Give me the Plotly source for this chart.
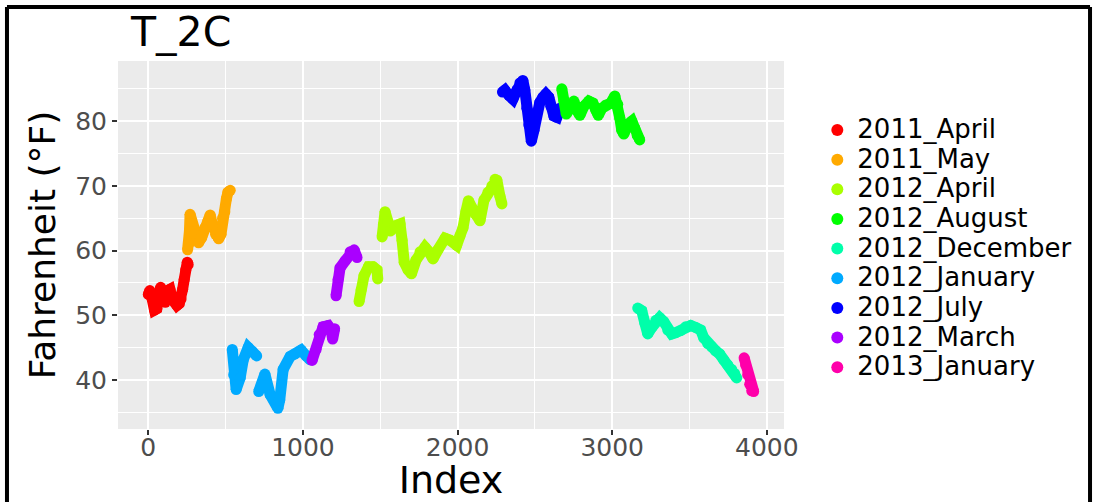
import plotly.graph_objects as go

# ---- data (index, Fahrenheit) ----
apr11_idx = [0, 10, 25, 40, 55, 70, 80, 95, 110, 125, 140, 155, 170, 185, 200, 212, 222, 232, 242, 252, 258]
apr11_f = [53.2, 53.8, 52.5, 50.8, 51.0, 53.5, 54.3, 52.5, 52.0, 53.8, 54.0, 52.5, 52.0, 51.5, 51.8, 52.5, 54.0, 55.5, 57.0, 58.2, 57.8]

may11_idx = [254, 262, 266, 270, 280, 300, 325, 345, 365, 385, 400, 415, 435, 455, 470, 480, 495, 505, 515, 530]
may11_f = [60.1, 61.0, 63.0, 65.6, 64.5, 62.5, 61.2, 62.0, 63.5, 64.5, 65.5, 64.0, 62.5, 61.8, 62.5, 65.0, 66.0, 68.0, 69.0, 69.3]

jan12_idx = [543, 552, 568, 594, 614, 646, 672, 701, None, 714, 754, 788, 838, 850, 872, 917, 950, 988, 1021, 1047]
jan12_f = [44.7, 40.8, 38.5, 40.3, 43.1, 45.0, 44.4, 43.7, None, 38.2, 40.9, 37.7, 35.6, 36.9, 41.6, 43.6, 44.0, 44.6, 43.7, 43.1]

mar12_idx = [1059, 1085, 1105, 1130, 1163, 1182, 1192, 1205, None, 1214, 1227, 1240, 1273, 1305, 1331, 1350]
mar12_f = [43.0, 44.7, 47.0, 48.2, 48.4, 47.7, 46.3, 47.9, None, 53.0, 55.5, 57.3, 58.4, 59.8, 60.1, 58.9]

apr12_idx = [1363, 1376, 1395, 1424, 1453, 1479, 1484, None, 1512, 1520, 1531, 1550, 1565, 1596, 1628, 1641, 1655, 1680, 1702, 1731, 1757, 1789, 1815, 1841, 1873, 1919, 1951, 1994, 2016, 2035, 2054, 2070, 2093, 2119, 2145, 2171, 2196, 2222, 2242, 2254, 2274, 2287]
apr12_f = [52.1, 53.9, 56.1, 57.5, 57.5, 57.0, 55.6, None, 62.1, 64.0, 66.0, 64.4, 63.0, 63.8, 64.1, 61.6, 58.2, 57.0, 56.4, 58.5, 59.8, 60.5, 59.8, 58.7, 60.1, 61.9, 61.6, 60.8, 62.3, 63.5, 66.0, 67.7, 66.6, 65.5, 64.6, 67.8, 69.0, 70.0, 71.0, 70.9, 68.4, 67.2]

jul12_idx = [2290, 2306, 2332, 2358, 2384, 2403, 2422, 2435, 2448, 2461, 2477, 2494, 2513, 2532, 2552, 2571, 2590, 2603, 2623, 2642, 2661]
jul12_f = [84.5, 84.8, 84.0, 83.4, 84.8, 85.9, 86.3, 84.8, 82.0, 79.4, 76.9, 78.6, 81.4, 82.9, 83.7, 84.2, 83.7, 82.3, 80.8, 80.6, 82.0]

aug12_idx = [2674, 2687, 2703, 2726, 2752, 2771, 2791, 2817, 2849, 2875, 2894, 2910, 2933, 2959, 2991, 3017, 3036, 3049, 3062, 3075, 3101, 3127, 3146, 3162, 3178]
aug12_f = [85.0, 83.2, 81.1, 82.0, 83.1, 81.7, 80.9, 82.3, 83.1, 82.8, 81.7, 80.9, 82.0, 82.5, 82.8, 83.9, 82.6, 80.5, 78.6, 78.0, 79.5, 80.0, 78.9, 77.8, 77.1]

dec12_idx = [3165, 3191, 3211, 3230, 3256, 3282, 3307, 3333, 3359, 3385, 3411, 3443, 3475, 3508, 3540, 3572, 3592, 3618, 3643, 3669, 3695, 3721, 3747, 3773, 3792, 3805]
dec12_f = [51.1, 50.7, 48.8, 47.1, 48.1, 49.2, 49.6, 49.0, 47.7, 47.1, 47.3, 47.6, 48.2, 48.4, 48.1, 47.7, 46.5, 45.6, 45.1, 44.5, 44.0, 43.1, 42.3, 41.6, 41.0, 40.3]

jan13_idx = [3853, 3863, 3876, 3889, 3902, 3915]
jan13_f = [43.4, 42.3, 40.8, 39.3, 38.3, 38.2]

# chronological drawing order (later data drawn on top)
series = [
    ("2011_April", apr11_idx, apr11_f, "#FF0000"),
    ("2011_May", may11_idx, may11_f, "#FFAA00"),
    ("2012_January", jan12_idx, jan12_f, "#00AAFF"),
    ("2012_March", mar12_idx, mar12_f, "#AA00FF"),
    ("2012_April", apr12_idx, apr12_f, "#AAFF00"),
    ("2012_July", jul12_idx, jul12_f, "#0000FF"),
    ("2012_August", aug12_idx, aug12_f, "#00FF00"),
    ("2012_December", dec12_idx, dec12_f, "#00FFAA"),
    ("2013_January", jan13_idx, jan13_f, "#FF00AA"),
]
legend_order = ["2011_April", "2011_May", "2012_April", "2012_August", "2012_December",
                "2012_January", "2012_July", "2012_March", "2013_January"]

FONT = "DejaVu Sans"
fig = go.Figure()
for name, xs, ys, col in series:
    fig.add_trace(go.Scatter(
        x=xs, y=ys, mode="lines+markers", name=name,
        showlegend=False, connectgaps=False,
        line=dict(color=col, width=11),
        marker=dict(color=col, size=11, line=dict(width=0)),
        hoverinfo="x+y+name"))
colors = {s[0]: s[3] for s in series}
for rank, name in enumerate(legend_order):
    fig.add_trace(go.Scatter(
        x=[None], y=[None], mode="markers",
        name='<span style="font-size:26px">' + name + '</span>',
        legendrank=rank + 1, showlegend=True,
        marker=dict(color=colors[name], size=11)))

# outer black frame (paper coords relative to plot area)
frame = dict(type="line", xref="paper", yref="paper", line=dict(color="black", width=4))
fig.add_shape(x0=-0.1667, x1=-0.1667, y0=1.147, y1=-0.25, **frame)
fig.add_shape(x0=-0.1667, x1=1.4595, y0=1.147, y1=1.147, **frame)
fig.add_shape(x0=1.4595, x1=1.4595, y0=1.147, y1=-0.25, **frame)

fig.update_layout(
    width=1097, height=502,
    margin=dict(l=118, r=313, t=61, b=73),
    paper_bgcolor="white", plot_bgcolor="#EBEBEB",
    font=dict(family=FONT, color="black"),
    title=dict(text="T_2C", x=131 / 1097, xanchor="left", xref="container",
               y=1 - 32 / 502, yanchor="middle", yref="container",
               font=dict(size=41, family=FONT, color="black")),
    legend=dict(x=1.05, xanchor="left", y=0.49, yanchor="middle",
                font=dict(size=20.5, family=FONT, color="black"),
                tracegroupgap=0,
                bgcolor="rgba(0,0,0,0)", itemsizing="constant"),
    showlegend=True,
)
fig.update_xaxes(
    range=[-196, 4111], tickvals=[0, 1000, 2000, 3000, 4000], automargin=False,
    showgrid=True, gridcolor="white", gridwidth=1.6, zeroline=False,
    minor=dict(showgrid=True, gridcolor="white", gridwidth=0.7, dtick=500, tick0=0, ticks=""),
    ticks="outside", ticklen=5, tickcolor="#333333", tickwidth=1.5,
    ticklabelstandoff=-9,
    tickfont=dict(size=25, family=FONT, color="#4D4D4D"),
    title=dict(text="Index", font=dict(size=38, family=FONT, color="black"), standoff=13),
    showline=False)
fig.update_yaxes(
    range=[32.4, 89.3], tickvals=[40, 50, 60, 70, 80], automargin=False,
    showgrid=True, gridcolor="white", gridwidth=1.6, zeroline=False,
    minor=dict(showgrid=True, gridcolor="white", gridwidth=0.7, dtick=5, tick0=0, ticks=""),
    ticks="outside", ticklen=5, tickcolor="#333333", tickwidth=1.5,
    tickfont=dict(size=25, family=FONT, color="#4D4D4D"),
    title=dict(text="Fahrenheit (°F)", font=dict(size=36, family=FONT, color="black"), standoff=8),
    showline=False)

fig.write_html("out.html", config={"displayModeBar": False},
               post_script="document.body.style.margin='0';")
